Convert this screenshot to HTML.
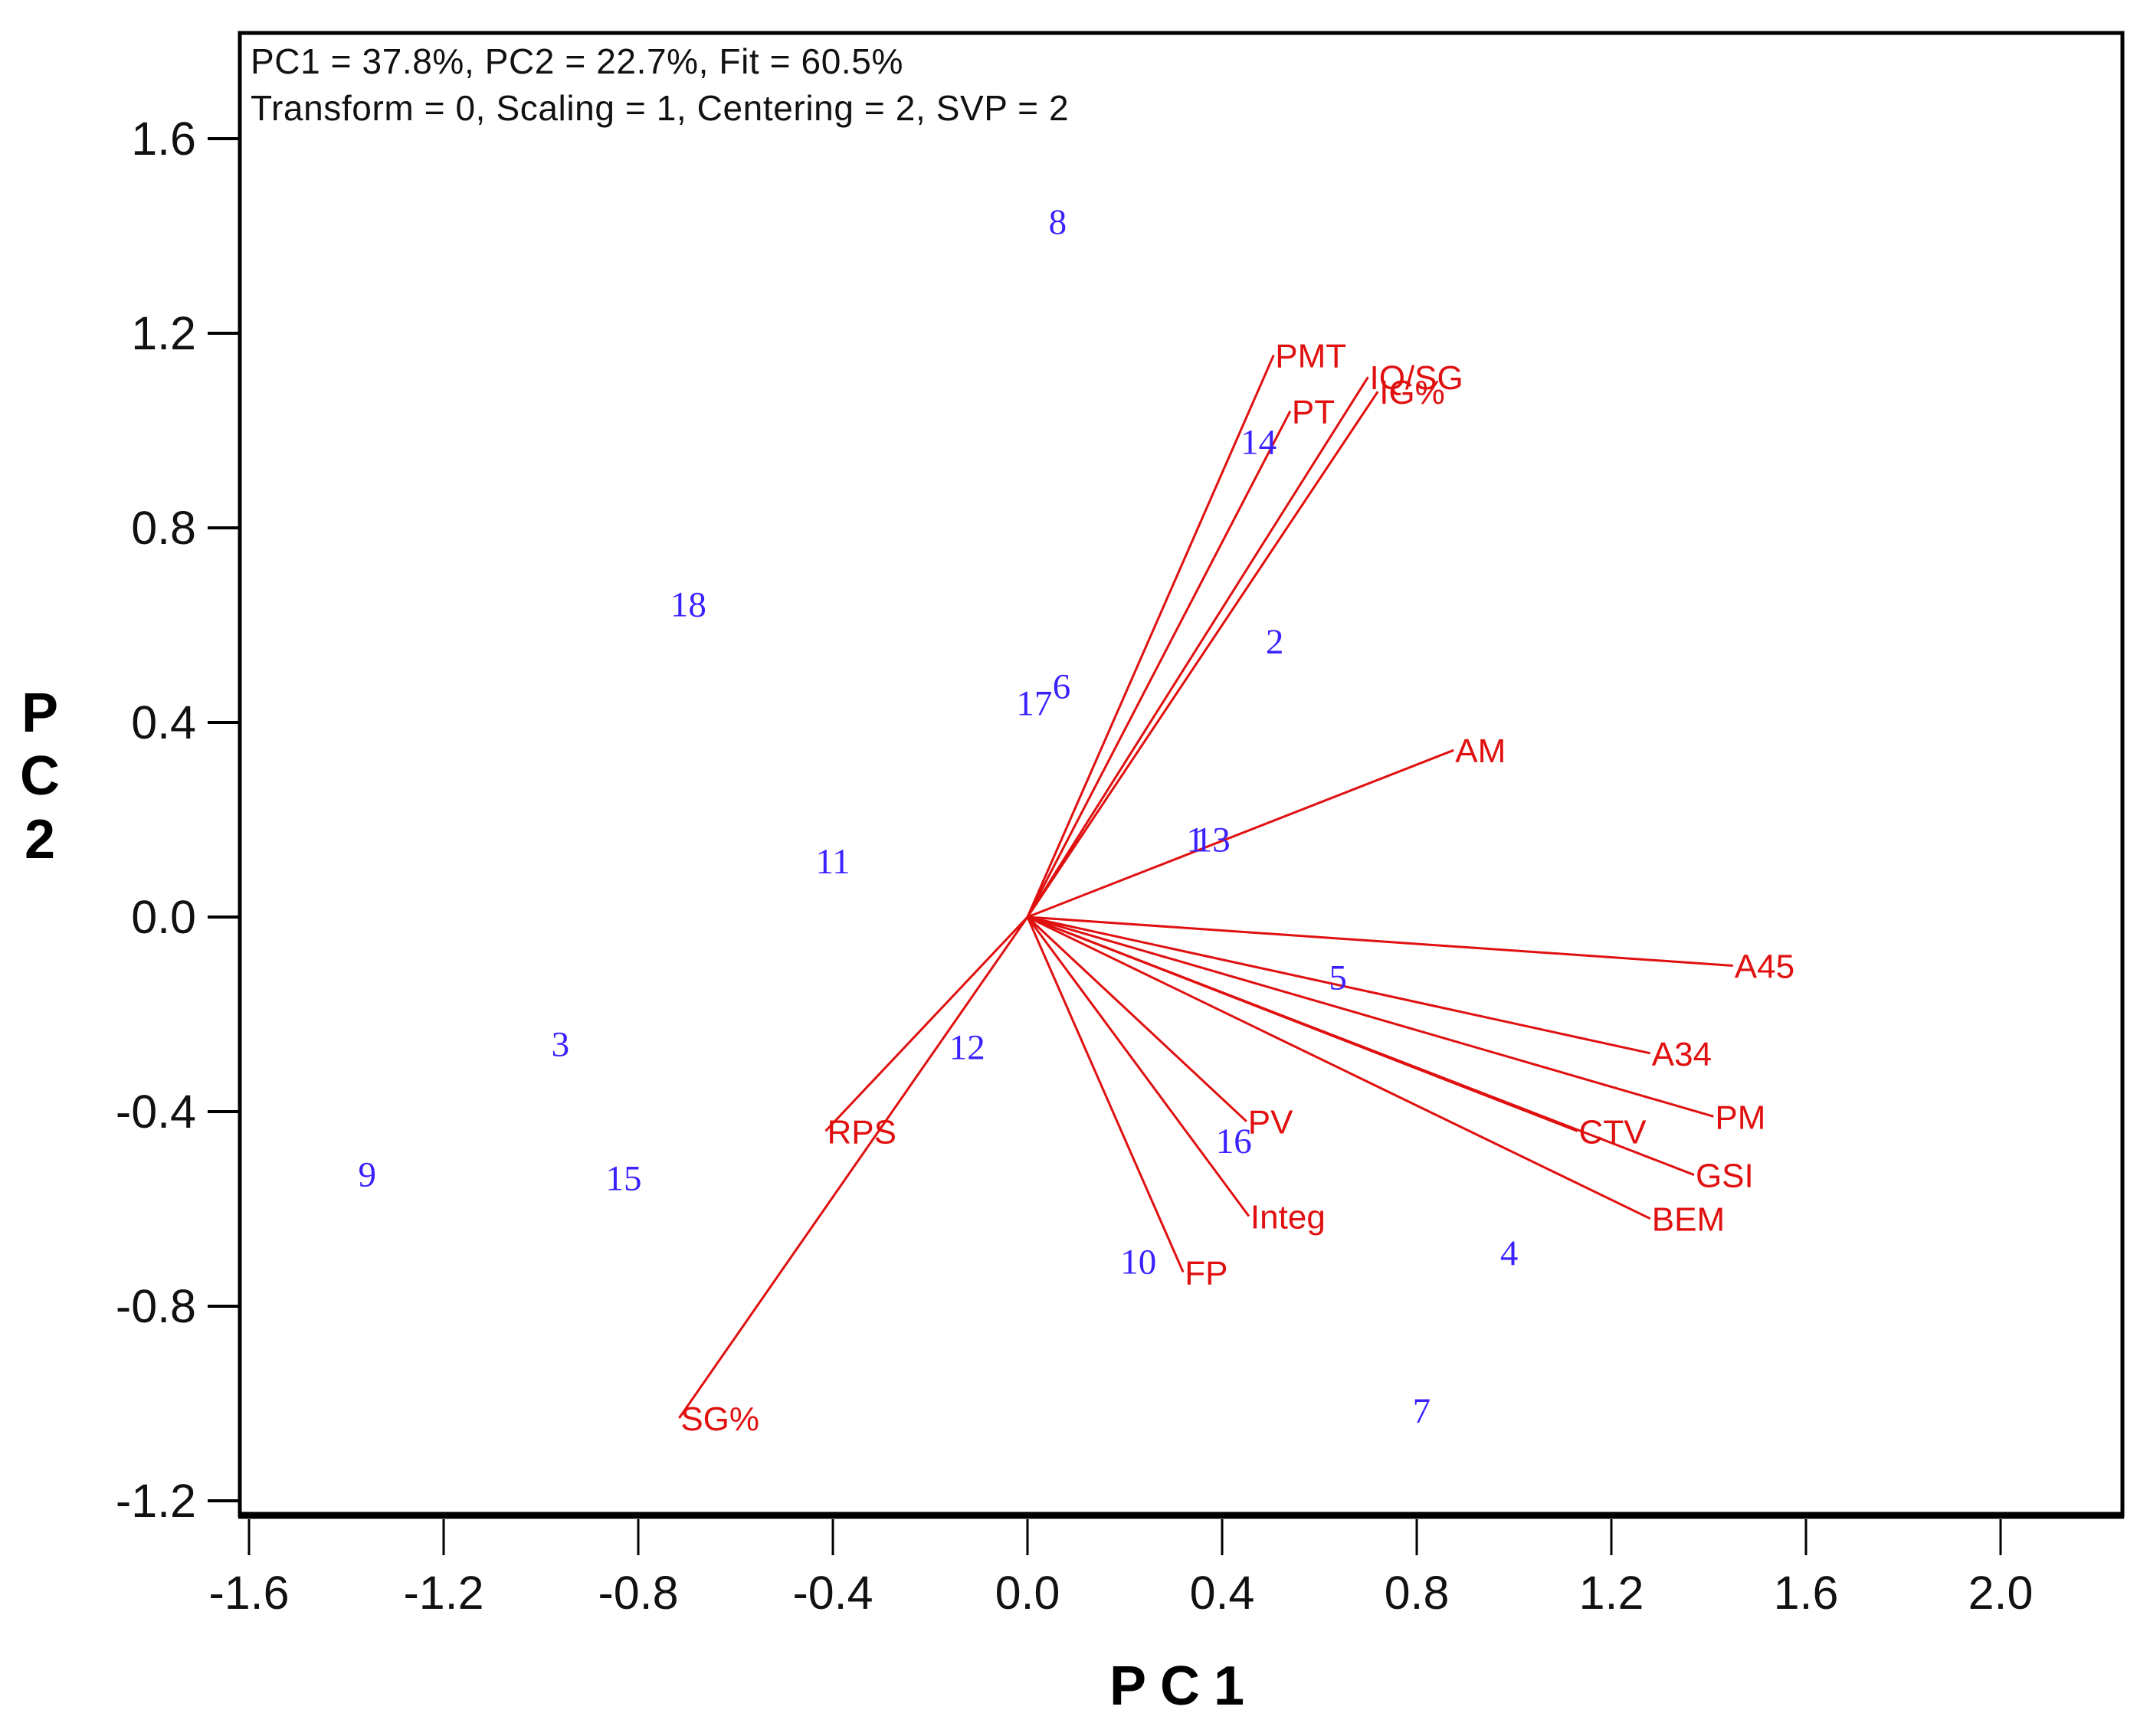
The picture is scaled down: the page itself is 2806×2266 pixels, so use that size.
<!DOCTYPE html>
<html><head><meta charset="utf-8"><style>
html,body{margin:0;padding:0;background:#fff;}
svg{display:block;font-family:"Liberation Sans",Arial,sans-serif;}
</style></head><body>
<svg id="chart" width="2806" height="2266" viewBox="0 0 2806 2266">
<rect x="0" y="0" width="2806" height="2266" fill="#fff"/>
<g id="vectors"></g>
<g id="points"></g>
<rect x="313" y="43" width="2457" height="1935" fill="none" stroke="#000" stroke-width="5"/>
<line x1="311" y1="1978" x2="2772" y2="1978" stroke="#000" stroke-width="9"/>
<g id="xticks"></g>
<g id="yticks"></g>
<text x="327" y="96" font-size="46" letter-spacing="0.6" fill="#111">PC1 = 37.8%, PC2 = 22.7%, Fit = 60.5%</text>
<text x="327" y="157" font-size="46" letter-spacing="0.6" fill="#111">Transform = 0, Scaling = 1, Centering = 2, SVP = 2</text>
<text x="1545" y="2225" font-size="72" font-weight="bold" text-anchor="middle" letter-spacing="18">PC1</text>
<g font-size="72" font-weight="bold" text-anchor="middle">
<text x="52" y="955">P</text><text x="52" y="1037">C</text><text x="52" y="1120">2</text>
</g>
</svg>
<script>
const xTicks=[-1.6,-1.2,-0.8,-0.4,0.0,0.4,0.8,1.2,1.6,2.0];
const yTicks=[1.6,1.2,0.8,0.4,0.0,-0.4,-0.8,-1.2];
const varNames=["PMT","PT","IQ/SG","IG%","AM","A45","A34","PM","CTV","GSI","BEM","PV","Integ","FP","RPS","SG%"];
const varX=[0.506,0.54,0.70,0.72,0.876,1.45,1.28,1.41,1.13,1.37,1.28,0.45,0.455,0.32,-0.415,-0.716];
const varY=[1.155,1.04,1.11,1.08,0.343,-0.10,-0.28,-0.41,-0.44,-0.53,-0.62,-0.42,-0.615,-0.73,-0.44,-1.03];
const ptLabels=["8","14","18","2","6","17","1","13","11","5","12","3","16","9","15","4","10","7"];
const ptX=[0.062,0.475,-0.697,0.508,0.07,0.014,0.345,0.38,-0.40,0.638,-0.124,-0.96,0.424,-1.357,-0.83,0.99,0.228,0.81];
const ptY=[1.43,0.977,0.643,0.567,0.475,0.44,0.16,0.16,0.115,-0.124,-0.267,-0.261,-0.46,-0.528,-0.536,-0.69,-0.708,-1.014];

const NS="http://www.w3.org/2000/svg";
function sx(v){return 1341+v*635;}
function sy(v){return 1197-v*635;}
function mk(tag,attrs,parent){const e=document.createElementNS(NS,tag);for(const k in attrs)e.setAttribute(k,attrs[k]);parent.appendChild(e);return e;}
const gx=document.getElementById('xticks'),gy=document.getElementById('yticks');
xTicks.forEach(t=>{
  const l=mk('line',{x1:sx(t),x2:sx(t),y1:1983,y2:2030,stroke:'#000','stroke-width':3},gx);
  
  
  const tx=mk('text',{x:sx(t),y:2100,'font-size':61,'text-anchor':'middle',fill:'#111'},gx);
  tx.textContent=t.toFixed(1);
  
  
});
yTicks.forEach(t=>{
  const l=mk('line',{x1:271,x2:311,y1:sy(t),y2:sy(t),stroke:'#000','stroke-width':4},gy);
  
  
  const tx=mk('text',{x:256,y:sy(t)+21,'font-size':61,'text-anchor':'end',fill:'#111'},gy);
  tx.textContent=t.toFixed(1);
  
  
});
const gv=document.getElementById('vectors');
varNames.forEach((n,i)=>{
  const l=mk('line',{x1:sx(0),y1:sy(0),x2:sx(varX[i]),y2:sy(varY[i]),stroke:'#e01010','stroke-width':3},gv);
  
  
  const t=mk('text',{x:sx(varX[i])+2,y:sy(varY[i])+16,'font-size':44,fill:'#e01010'},gv);
  t.textContent=n;
  
  
});
const gp=document.getElementById('points');
ptLabels.forEach((n,i)=>{
  const t=mk('text',{x:sx(ptX[i]),y:sy(ptY[i])+16,'font-size':47,fill:'#3a22ff','text-anchor':'middle','font-family':'"Liberation Serif",serif'},gp);
  t.textContent=n;
  
  
});
</script>
</body></html>
